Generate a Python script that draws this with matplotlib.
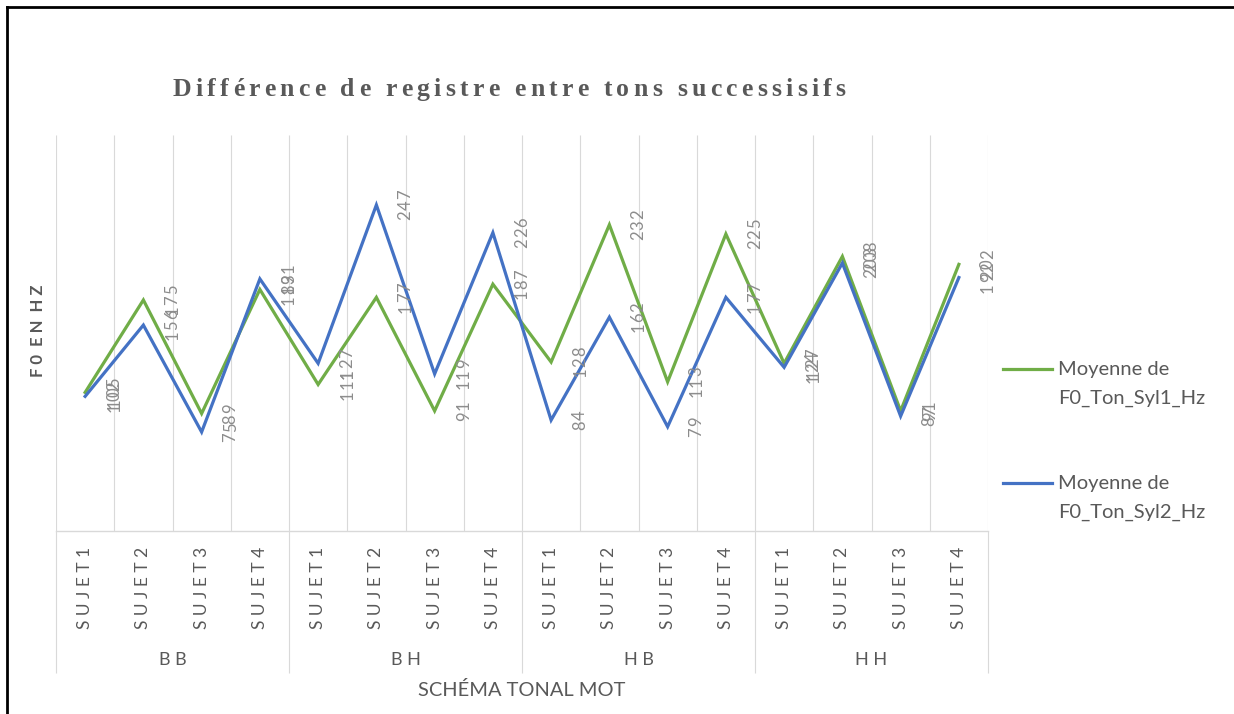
import matplotlib
matplotlib.use("Agg")
import matplotlib.pyplot as plt
import matplotlib.transforms as mtransforms
from matplotlib.font_manager import FontProperties
from matplotlib.lines import Line2D

# data
groups = ["B B", "B H", "H B", "H H"]
subjects = ["SUJET 1", "SUJET 2", "SUJET 3", "SUJET 4"]
syl1 = [105, 175, 89, 183, 111, 177, 91, 187, 128, 232, 113, 225, 127, 208, 91, 202]
syl2 = [102, 156, 75, 191, 127, 247, 119, 226, 84, 162, 79, 177, 124, 203, 87, 192]
legend_labels = ["Moyenne de\nF0_Ton_Syl1_Hz", "Moyenne de\nF0_Ton_Syl2_Hz"]

W, H = 1234, 714
GREEN = "#70AD47"
BLUE = "#4472C4"
TXT = "#595959"
LBL = "#8c8c8c"
GRID = "#d9d9d9"

fig = plt.figure(figsize=(W / 100, H / 100), dpi=100)
renderer = fig.canvas.get_renderer()
PIX = mtransforms.IdentityTransform()


def tw(s, fp):
    return renderer.get_text_width_height_descent(s, fp, ismath=False)[0]


def char_centres(s, fp, track):
    # centre of each char along the text direction (pixels), with extra tracking
    base = tw("||", fp)
    adv = [tw("|" + ch + "|", fp) - base for ch in s]
    cen, pos = [], 0.0
    for a in adv:
        cen.append(pos + a / 2)
        pos += a + track
    return cen, pos - track


def spread(s, gap="  "):
    # Excel-like letter spacing: a space between letters, wider between words
    return gap.join(" ".join(word) for word in s.split(" "))


ax = fig.add_axes([56 / W, (H - 531) / H, (988 - 56) / W, (531 - 135) / H])
n = len(syl1)
x = list(range(n))
ax.set_xlim(-0.5, n - 0.5)
ax.set_ylim(0, 300)
for s in ["top", "left", "right"]:
    ax.spines[s].set_visible(False)
ax.spines["bottom"].set_color(GRID)
ax.spines["bottom"].set_linewidth(1)
ax.set_xticks([])
ax.set_yticks([])

# vertical grid lines at each category boundary
bounds = [k - 0.5 for k in range(n + 1)]
ax.vlines(bounds, 0, 1, transform=ax.get_xaxis_transform(), color=GRID, lw=0.8, zorder=0)
# group separators in the category area
gb = [k * 4 - 0.5 for k in range(len(groups) + 1)]
ax.vlines(gb, -(673 - 531) / 396, 0, transform=ax.get_xaxis_transform(),
          color=GRID, lw=0.8, clip_on=False)

ax.plot(x, syl1, color=GREEN, lw=2.3, solid_joinstyle="miter", zorder=3)
ax.plot(x, syl2, color=BLUE, lw=2.3, solid_joinstyle="miter", zorder=4)

# data labels, rotated, to the right of each point
fp_lbl = FontProperties(family=["Lato", "DejaVu Sans"], size=12)
for series in (syl1, syl2):
    for i, v in enumerate(series):
        s = str(v)
        cen, total = char_centres(s, fp_lbl, 0.8)
        for ch, c in zip(s, cen):
            ax.annotate(ch, (i, v), xytext=(29, -total / 2 + c), textcoords="offset pixels",
                        rotation=90, rotation_mode="anchor", ha="center", va="center",
                        fontproperties=fp_lbl, color=LBL, zorder=5, annotation_clip=False)

# category tick labels
for g in range(len(groups)):
    for j, sub in enumerate(subjects):
        i = g * 4 + j
        ax.annotate(spread(sub, " "), (i, 0), xycoords=("data", "axes fraction"),
                    xytext=(0, -16), textcoords="offset pixels", rotation=90,
                    ha="center", va="top", family=["Lato", "DejaVu Sans"], fontsize=12.5,
                    color=TXT, annotation_clip=False)
    ax.annotate(groups[g], (g * 4 + 1.5, 0), xycoords=("data", "axes fraction"),
                xytext=(0, -129), textcoords="offset pixels", ha="center", va="center",
                family=["Lato", "DejaVu Sans"], fontsize=13, color=TXT, annotation_clip=False)

# axis titles
fig.text(522, H - 690, "SCHÉMA TONAL MOT", transform=PIX, ha="center", va="center",
         family=["Lato", "DejaVu Sans"], fontsize=14.4, color=TXT)
fig.text(38, H - 331, spread("F0 EN HZ", "  "), transform=PIX, rotation=90, ha="center",
         va="center", family=["Lato", "DejaVu Sans"], fontsize=12, fontweight="bold", color=TXT)

# chart title with letter spacing, spread over the same width as the reference
fp_t = FontProperties(family=["Liberation Serif", "DejaVu Serif"], size=18.5, weight="bold")
title = "Différence de registre entre tons successisifs"
_, natural = char_centres(title, fp_t, 0)
track = (673 - natural) / (len(title) - 1)
cen, total = char_centres(title, fp_t, track)
x0 = 509 - total / 2
for ch, c in zip(title, cen):
    if ch == " ":
        continue
    fig.text(x0 + c, H - 96, ch, transform=PIX, ha="center", va="baseline",
             fontproperties=fp_t, color=TXT)

# legend
for k, (col, lab) in enumerate(zip([GREEN, BLUE], legend_labels)):
    y0 = 369 + k * 114
    fig.add_artist(Line2D([1003, 1052], [H - y0, H - y0], transform=PIX, color=col, lw=2.3))
    for m, line in enumerate(lab.split("\n")):
        fig.text(1058, H - (y0 + m * 29), line, transform=PIX, ha="left", va="center",
                 family=["Lato", "DejaVu Sans"], fontsize=14.5, color=TXT)

# outer frame (top and left edges visible in the screenshot)
fig.add_artist(Line2D([7, 7], [0, H - 7], transform=PIX, color="black", lw=2))
fig.add_artist(Line2D([7, W], [H - 7, H - 7], transform=PIX, color="black", lw=2))

fig.savefig("out.png", dpi=100)
